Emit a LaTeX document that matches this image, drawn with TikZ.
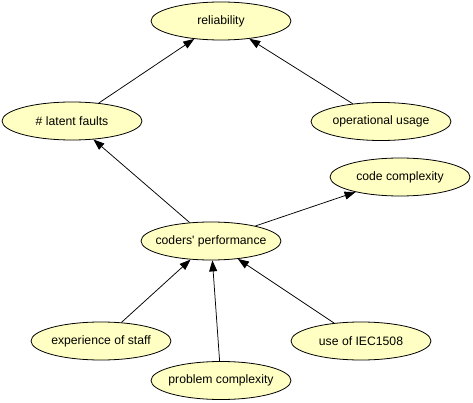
\documentclass[tikz,border=0pt]{standalone}
\usepackage{fontspec}
\setmainfont{Liberation Sans}
\usetikzlibrary{shapes.geometric,arrows.meta}
\definecolor{nodefill}{RGB}{255,255,195}
\newcommand{\zw}[1]{\makebox[0pt]{#1}}
\tikzset{
  vnode/.style={ellipse,draw=black,line width=0.8pt,fill=nodefill,minimum width=140pt,minimum height=38pt,inner sep=0pt,font=\fontsize{12.2}{14}\selectfont},
  arr/.style={draw=black,line width=0.75pt,-{Triangle[length=11pt,width=8pt]}}
}
\begin{document}
\begin{tikzpicture}[x=1pt,y=-1pt]
\useasboundingbox (0,0) rectangle (473,403);
\node[vnode] (rel) at (221,21) {\zw{reliability}};
\node[vnode] (lat) at (72,121) {\zw{\# latent faults}};
\node[vnode] (ops) at (381,121.5) {\zw{operational usage}};
\node[vnode] (code) at (400,177) {\zw{code complexity}};
\node[vnode] (cod) at (211,241) {\zw{coders\textquotesingle{} performance}};
\node[vnode] (exp) at (101,341) {\zw{experience of staff}};
\node[vnode] (iec) at (361,341) {\zw{use of IEC1508}};
\node[vnode] (prob) at (221,380.5) {\zw{problem complexity}};
\draw[arr] (lat) -- (rel);
\draw[arr] (ops) -- (rel);
\draw[arr] (cod) -- (lat);
\draw[arr] (cod) -- (code);
\draw[arr] (exp) -- (cod);
\draw[arr] (prob) -- (cod);
\draw[arr] (iec) -- (cod);
\end{tikzpicture}
\end{document}
